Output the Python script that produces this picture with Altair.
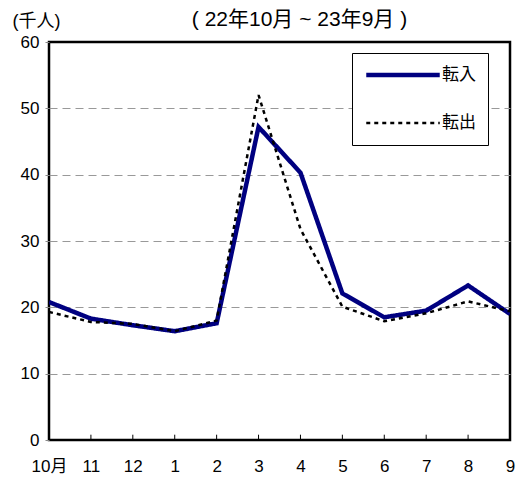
import altair as alt
import pandas as pd

months = ["10月", "11", "12", "1", "2", "3", "4", "5", "6", "7", "8", "9"]
tennyu = [20.8, 18.3, 17.3, 16.4, 17.6, 47.2, 40.3, 22.1, 18.5, 19.5, 23.3, 19.0]
tenshutsu = [19.3, 17.8, 17.5, 16.4, 18.0, 52.0, 31.8, 20.1, 17.9, 19.1, 20.9, 19.4]
series = ["転入", "転出"]

rows = []
for i, m in enumerate(months):
    rows.append({"month": m, "series": series[0], "value": tennyu[i], "order": i})
    rows.append({"month": m, "series": series[1], "value": tenshutsu[i], "order": i})
df = pd.DataFrame(rows)
tick_df = pd.DataFrame({"month": months})

FONT = "Liberation Sans, Noto Sans CJK JP"

x_enc = alt.X(
    "month:N",
    sort=months,
    scale=alt.Scale(type="point", padding=0),
    axis=alt.Axis(
        title=None, labelAngle=0, domain=False, ticks=False, grid=False,
        labelFontSize=17, labelColor="black", labelPadding=18, labelFont=FONT,
    ),
)

lines = alt.Chart(df).mark_line(clip=True).encode(
    x=x_enc,
    y=alt.Y(
        "value:Q",
        scale=alt.Scale(domain=[0, 60], nice=False, zero=True),
        axis=alt.Axis(
            values=[0, 10, 20, 30, 40, 50, 60], domain=False, tickSize=4, tickColor="#888",
            labelFontSize=17, labelColor="black", labelPadding=6, labelFont=FONT,
            gridColor="#999", gridDash=[8, 5], gridWidth=1,
            gridOpacity={"condition": {"test": "datum.value > 0 && datum.value < 60", "value": 1}, "value": 0},
            title="(千人)", titleAngle=0, titleX=-37, titleY=-21, titleAlign="left",
            titleBaseline="middle", titleFontSize=18, titleFontWeight="normal",
            titleFont=FONT, titleColor="black",
        ),
    ),
    order="order:Q",
    color=alt.Color(
        "series:N",
        scale=alt.Scale(domain=series, range=["#000080", "#000000"]),
        legend=alt.Legend(
            title=None, orient="none", legendX=303, legendY=11,
            strokeColor="black", fillColor="white", padding=12,
            symbolType="stroke", symbolSize=5400, clipHeight=20,
            labelFontSize=17, labelFont=FONT, labelColor="black", labelOffset=0,
            rowPadding=28,
        ),
    ),
    strokeDash=alt.StrokeDash(
        "series:N",
        scale=alt.Scale(domain=series, range=[[1, 0], [4, 4]]),
        legend=None,
    ),
    strokeWidth=alt.StrokeWidth(
        "series:N",
        scale=alt.Scale(domain=series, range=[4.5, 2.5]),
        legend=None,
    ),
)

ticks = alt.Chart(tick_df).mark_rule(color="black", strokeWidth=1).encode(
    x=alt.X("month:N", sort=months, scale=alt.Scale(type="point", padding=0)),
    y=alt.datum(0),
    y2=alt.datum(0.8),
)

chart = alt.layer(lines, ticks).properties(
    width=461,
    height=398,
    padding={"left": 41, "top": 34, "right": 12, "bottom": 35},
    autosize=alt.AutoSizeParams(type="none"),
    title=alt.TitleParams(
        text="( 22年10月 ~ 23年9月 )", anchor="middle", dx=20, offset=-18,
        fontSize=21, fontWeight="normal", font=FONT, color="black",
    ),
).configure_view(stroke="black", strokeWidth=2.5).configure_axis(labelFont=FONT)

chart.save("out.html", embed_options={"renderer": "svg", "actions": False})
